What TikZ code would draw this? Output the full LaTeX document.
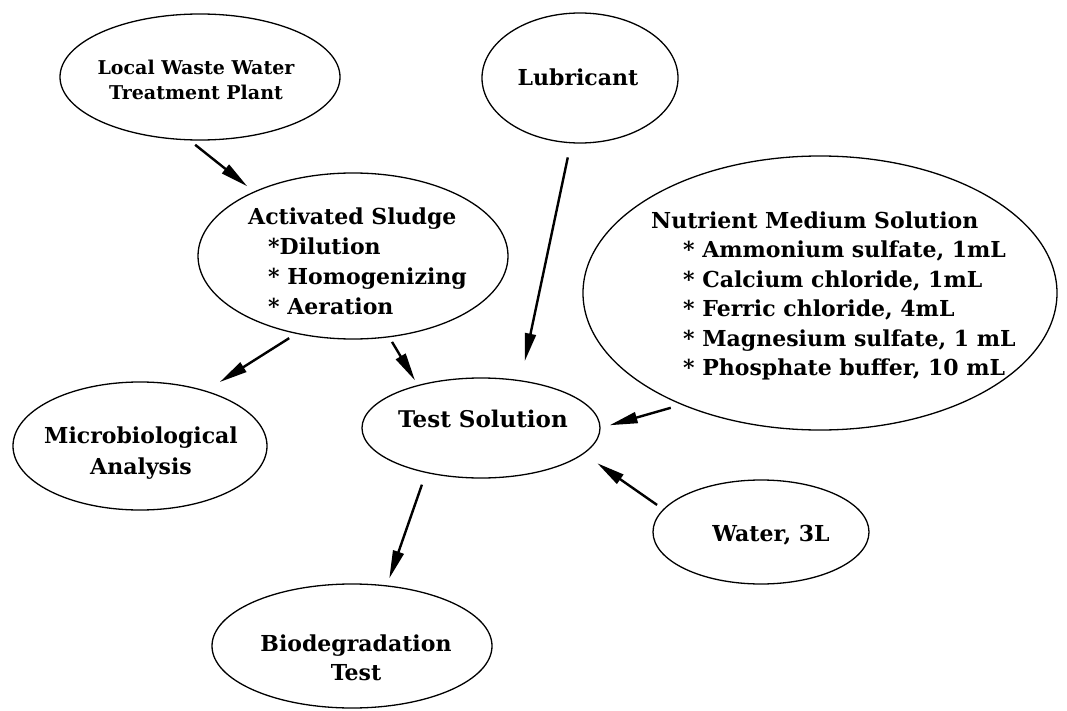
\documentclass[tikz,border=0pt]{standalone}
\usepackage{fontspec}
\setmainfont{DejaVu Serif}
\usetikzlibrary{arrows.meta,shapes.geometric}
\begin{document}
\begin{tikzpicture}[x=1bp,y=-1bp,
  ell/.style={draw, ellipse, line width=1.3bp, inner sep=0pt, outer sep=0pt},
  txt/.style={font=\bfseries\fontsize{22bp}{30bp}\selectfont, inner sep=0pt, align=center},
  arr/.style={line width=2.4bp, -{Triangle[length=28bp,width=11bp]}}
]
\useasboundingbox[fill=white] (0,0) rectangle (1067,711);

% ellipses
\node[ell, minimum width=280bp, minimum height=126bp] (local) at (200,77) {};
\node[ell, minimum width=196bp, minimum height=130bp] (lub) at (580,78) {};
\node[ell, minimum width=310bp, minimum height=166bp] (act) at (353,256) {};
\node[ell, minimum width=474bp, minimum height=274bp] (nutr) at (820,293) {};
\node[ell, minimum width=238bp, minimum height=100bp] (test) at (481,428) {};
\node[ell, minimum width=254bp, minimum height=128bp] (micro) at (140,446) {};
\node[ell, minimum width=216bp, minimum height=104bp] (water) at (761,532) {};
\node[ell, minimum width=280bp, minimum height=124bp] (bio) at (352,646) {};

% texts
\node[txt, font=\bfseries\fontsize{19bp}{25bp}\selectfont] (tlocal) at (196,80) {Local Waste Water\\Treatment Plant};
\node[txt] (tlub) at (578,77) {Lubricant};
\node[txt, align=left, anchor=west] (tact) at (248,261) {Activated Sludge\\\hspace*{20bp}*Dilution\\\hspace*{20bp}* Homogenizing\\\hspace*{20bp}* Aeration};
\node[txt, align=left, anchor=west, font=\bfseries\fontsize{22bp}{29.5bp}\selectfont] (tnutr) at (651,296) {Nutrient Medium Solution\\\hspace*{32bp}* Ammonium sulfate, 1mL\\\hspace*{32bp}* Calcium chloride, 1mL\\\hspace*{32bp}* Ferric chloride, 4mL\\\hspace*{32bp}* Magnesium sulfate, 1 mL\\\hspace*{32bp}* Phosphate buffer, 10 mL};
\node[txt, font=\bfseries\fontsize{23bp}{30bp}\selectfont] (ttest) at (483,419) {Test Solution};
\node[txt, font=\bfseries\fontsize{22bp}{31bp}\selectfont] (tmicro) at (141,453) {Microbiological\\Analysis};
\node[txt] (twater) at (771,535) {Water, 3L};
\node[txt, font=\bfseries\fontsize{22bp}{29bp}\selectfont] (tbio) at (356,658) {Biodegradation\\Test};

% connectors
\draw[arr, shorten <=8bp, shorten >=9bp] (local.-100) -- (act.147);
\draw[arr, shorten <=15bp, shorten >=20bp] (lub.-98) -- (test.50);
\draw[arr, shorten <=9bp, shorten >=17bp] (act.-126) -- (micro.40);
\draw[arr, shorten <=6bp, shorten >=6bp] (act.-66) -- (test.146);
\draw[arr, shorten <=12bp, shorten >=10bp] (nutr.-141) -- (test.0);
\draw[arr, shorten <=8bp, shorten >=17bp] (water.167) -- (test.-14);
\draw[arr, shorten <=13bp, shorten >=8bp] (test.-141) -- (bio.60);
\end{tikzpicture}
\end{document}
